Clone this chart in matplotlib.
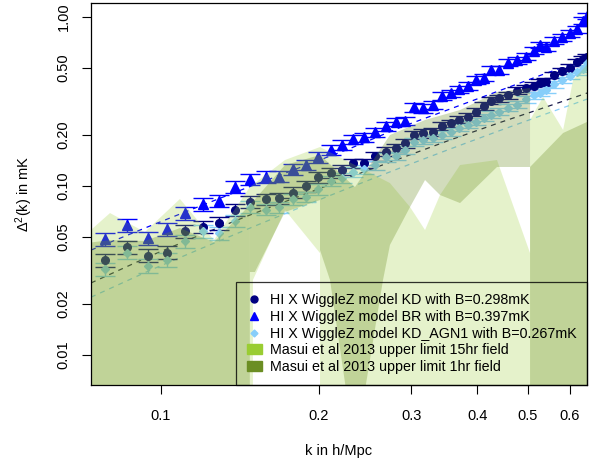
import numpy as np
import matplotlib
matplotlib.use('Agg')
import matplotlib.pyplot as plt
from matplotlib.lines import Line2D
from matplotlib.patches import Patch
from matplotlib.ticker import NullLocator

plt.rcParams['font.family'] = ['Liberation Sans', 'DejaVu Sans']
plt.rcParams['mathtext.fontset'] = 'custom'
plt.rcParams['mathtext.rm'] = 'Liberation Sans'

# k bins (h/Mpc)
k = [0.0782, 0.0860, 0.0943, 0.1028, 0.1111, 0.1201, 0.1291, 0.1383, 0.1480,
     0.1582, 0.1680, 0.1781, 0.1887, 0.1994, 0.2104, 0.2212, 0.2326, 0.2436,
     0.2556, 0.2683, 0.2803, 0.2916, 0.3040, 0.3160, 0.3297, 0.3430, 0.3560,
     0.3703, 0.3836, 0.3981, 0.4123, 0.4261, 0.4413, 0.4581, 0.4765, 0.4957,
     0.5134, 0.5271, 0.5423, 0.5605, 0.5805, 0.6012, 0.6199, 0.6364, 0.6476]

kd = [0.0365, 0.0436, 0.0388, 0.0404, 0.0539, 0.0574, 0.0601, 0.0721, 0.0807,
      0.0834, 0.0846, 0.0913, 0.1000, 0.1126, 0.1189, 0.1244, 0.1363, 0.1363,
      0.1505, 0.1596, 0.1685, 0.1789, 0.2003, 0.2050, 0.2095, 0.2279, 0.2349,
      0.2474, 0.2570, 0.2751, 0.2973, 0.3196, 0.3302, 0.3455, 0.3664, 0.3786,
      0.3922, 0.4086, 0.4142, 0.4537, 0.4791, 0.5025, 0.5380, 0.5642, 0.5775]

br = [0.0483, 0.0588, 0.0491, 0.0554, 0.0689, 0.0782, 0.0818, 0.0991, 0.1096,
      0.1135, 0.1138, 0.1256, 0.1332, 0.1478, 0.1633, 0.1748, 0.1889, 0.1941,
      0.2078, 0.2264, 0.2401, 0.2434, 0.2921, 0.2882, 0.3035, 0.3422, 0.3536,
      0.3735, 0.3906, 0.4239, 0.4374, 0.4857, 0.4857, 0.5365, 0.5566, 0.5822,
      0.6318, 0.6830, 0.6620, 0.7241, 0.7584, 0.8009, 0.8456, 0.9508, 1.0137]

agn1 = [0.0321, 0.0404, 0.0338, 0.0367, 0.0473, 0.0542, 0.0525, 0.0621, 0.0754,
        0.0726, 0.0748, 0.0834, 0.0864, 0.0956, 0.1071, 0.1120, 0.1215, 0.1256,
        0.1332, 0.1485, 0.1505, 0.1633, 0.1821, 0.1871, 0.1915, 0.2003, 0.2087,
        0.2218, 0.2310, 0.2407, 0.2542, 0.2649, 0.2751, 0.2913, 0.3035, 0.3271,
        0.3455, 0.3575, 0.3699, 0.3987, 0.4239, 0.4476, 0.4727, 0.4957, 0.5343]

# fractional 1-sigma errors
rel_err = [0.09, 0.09, 0.09, 0.09, 0.085, 0.085, 0.085, 0.08, 0.08, 0.078,
           0.076, 0.074, 0.072, 0.07, 0.068, 0.066, 0.065, 0.064, 0.062, 0.06,
           0.059, 0.058, 0.057, 0.056, 0.055, 0.054, 0.053, 0.052, 0.051, 0.05,
           0.05, 0.049, 0.049, 0.048, 0.048, 0.047, 0.047, 0.046, 0.046, 0.046,
           0.045, 0.045, 0.045, 0.045, 0.045]

# model curves (dashed)
k_model = [0.0736, 0.0953, 0.1187, 0.1478, 0.1840, 0.2291, 0.2852, 0.3552,
           0.4421, 0.5272, 0.6567]
model_br = [0.0418, 0.0580, 0.0761, 0.0993, 0.1287, 0.1667, 0.2218, 0.2854,
            0.3674, 0.4507, 0.5759]
model_kd = [0.0267, 0.0385, 0.0513, 0.0674, 0.0873, 0.1131, 0.1454, 0.1871,
            0.2375, 0.2854, 0.3599]
model_agn1 = [0.0220, 0.0317, 0.0424, 0.0564, 0.0746, 0.0980, 0.1278, 0.1655,
              0.2130, 0.2595, 0.3316]

# Masui et al 2013 upper limit regions, drawn piece by piece
masui15_k = [
    [0.07, 0.0800, 0.0932, 0.1087, 0.1262, 0.1477, 0.1477, 0.07],
    [0.1477, 0.1723, 0.2009, 0.2009, 0.1723, 0.1497, 0.1497, 0.1477],
    [0.2009, 0.2342, 0.2730, 0.2981, 0.3184, 0.3400, 0.3712, 0.4365, 0.5046,
     0.5046, 0.2009],
    [0.5046, 0.5342, 0.5833, 0.6094, 0.66, 0.66, 0.5046],
]
masui15_v = [
    [0.0479, 0.0692, 0.0534, 0.0838, 0.0479, 0.0986, 0.005, 0.005],
    [0.0986, 0.1425, 0.1701, 0.0401, 0.0721, 0.0278, 0.005, 0.005],
    [0.1701, 0.1331, 0.1041, 0.0751, 0.0549, 0.0885, 0.1331, 0.1425, 0.0401,
     0.005, 0.005],
    [0.2458, 0.3362, 0.2145, 0.4239, 0.5565, 0.005, 0.005],
]
masui1_k = [
    [0.07, 0.0800, 0.0932, 0.1087, 0.1262, 0.1477, 0.1477, 0.07],
    [0.1477, 0.1723, 0.2009, 0.2009, 0.1723, 0.1510, 0.1477],
    [0.2009, 0.2342, 0.2730, 0.3184, 0.3712, 0.4365, 0.5046, 0.5046, 0.4365,
     0.3712, 0.3400, 0.3184, 0.2981, 0.2730, 0.2648, 0.2342, 0.2099, 0.2009],
    [0.5046, 0.5833, 0.66, 0.66, 0.5046],
]
masui1_v = [
    [0.0454, 0.0479, 0.0473, 0.0564, 0.0466, 0.0772, 0.005, 0.005],
    [0.0772, 0.1331, 0.1526, 0.0826, 0.0702, 0.0310, 0.0310],
    [0.1526, 0.0986, 0.2003, 0.2458, 0.2816, 0.3598, 0.3801, 0.1296, 0.1296,
     0.0793, 0.0885, 0.1085, 0.0751, 0.0448, 0.0278, 0.0027, 0.0278, 0.0418],
    [0.1296, 0.2059, 0.2458, 0.005, 0.005],
]

labels = ['HI X WiggleZ model KD with B=0.298mK',
          'HI X WiggleZ model BR with B=0.397mK',
          'HI X WiggleZ model KD_AGN1 with B=0.267mK',
          'Masui et al 2013 upper limit 15hr field',
          'Masui et al 2013 upper limit 1hr field']

fig = plt.figure(figsize=(5.92, 4.63), dpi=100)
ax = fig.add_axes([91 / 592, 78 / 463, 496 / 592, 382 / 463])
ax.set_xscale('log')
ax.set_yscale('log')

k = np.array(k)
rel_err = np.array(rel_err)

# dashed model lines
ax.plot(k_model, model_br, ls=(0, (4, 4)), color='blue', lw=0.9, zorder=2)
ax.plot(k_model, model_kd, ls=(0, (4, 4)), color='#1a1a4a', lw=0.9, zorder=2)
ax.plot(k_model, model_agn1, ls=(0, (4, 4)), color='lightskyblue', lw=0.9,
        zorder=2)

# measurements
series = [(np.array(kd), 'o', 'navy', 5.5),
          (np.array(br), '^', 'blue', 6.5),
          (np.array(agn1), 'D', 'lightskyblue', 4.0)]
for vals, mk, col, ms in series:
    ax.errorbar(k, vals, yerr=rel_err * vals, fmt=mk, color=col, ms=ms,
                mec=col, ecolor=col, elinewidth=1, capsize=7, capthick=1,
                zorder=3)

# upper limit regions drawn on top, transparent
for kx, vy in zip(masui15_k, masui15_v):
    ax.fill(kx, vy, color='yellowgreen', alpha=0.25, lw=0, zorder=4)
for kx, vy in zip(masui1_k, masui1_v):
    ax.fill(kx, vy, color='olivedrab', alpha=0.3, lw=0, zorder=4)

ax.set_xlim(0.0736, 0.6477)
ax.set_ylim(0.00665, 1.21)

ax.xaxis.set_minor_locator(NullLocator())
ax.yaxis.set_minor_locator(NullLocator())
ax.set_xticks([0.1, 0.2, 0.3, 0.4, 0.5, 0.6])
ax.set_xticklabels(['0.1', '0.2', '0.3', '0.4', '0.5', '0.6'])
ax.set_yticks([0.01, 0.02, 0.05, 0.1, 0.2, 0.5, 1.0])
ax.set_yticklabels(['0.01', '0.02', '0.05', '0.10', '0.20', '0.50', '1.00'],
                   rotation=90, va='center')
ax.tick_params(direction='out', length=6.5, width=0.8, labelsize=10.5,
               color='black')
ax.tick_params(axis='x', pad=11)
ax.tick_params(axis='y', pad=8)
for sp in ax.spines.values():
    sp.set_linewidth(0.9)
    sp.set_zorder(6)

ax.set_xlabel('k in h/Mpc', fontsize=10.5, labelpad=15)
ax.set_ylabel(r'$\mathregular{\Delta^{2}}$(k) in mK', fontsize=10.5,
              labelpad=16)

handles = [Line2D([], [], ls='none', marker='o', color='navy', ms=5),
           Line2D([], [], ls='none', marker='^', color='blue', ms=5.5),
           Line2D([], [], ls='none', marker='D', color='lightskyblue', ms=3.5),
           Patch(color='yellowgreen'),
           Patch(color='olivedrab')]
leg = ax.legend(handles, labels, loc='lower right', fontsize=10.3,
                frameon=True, fancybox=False, borderaxespad=0,
                borderpad=0.75, handlelength=1.1, handletextpad=0.5,
                labelspacing=0.2, facecolor='none', edgecolor='black')
leg.get_frame().set_linewidth(0.9)
leg.set_zorder(7)

fig.savefig('out.png', dpi=100)
